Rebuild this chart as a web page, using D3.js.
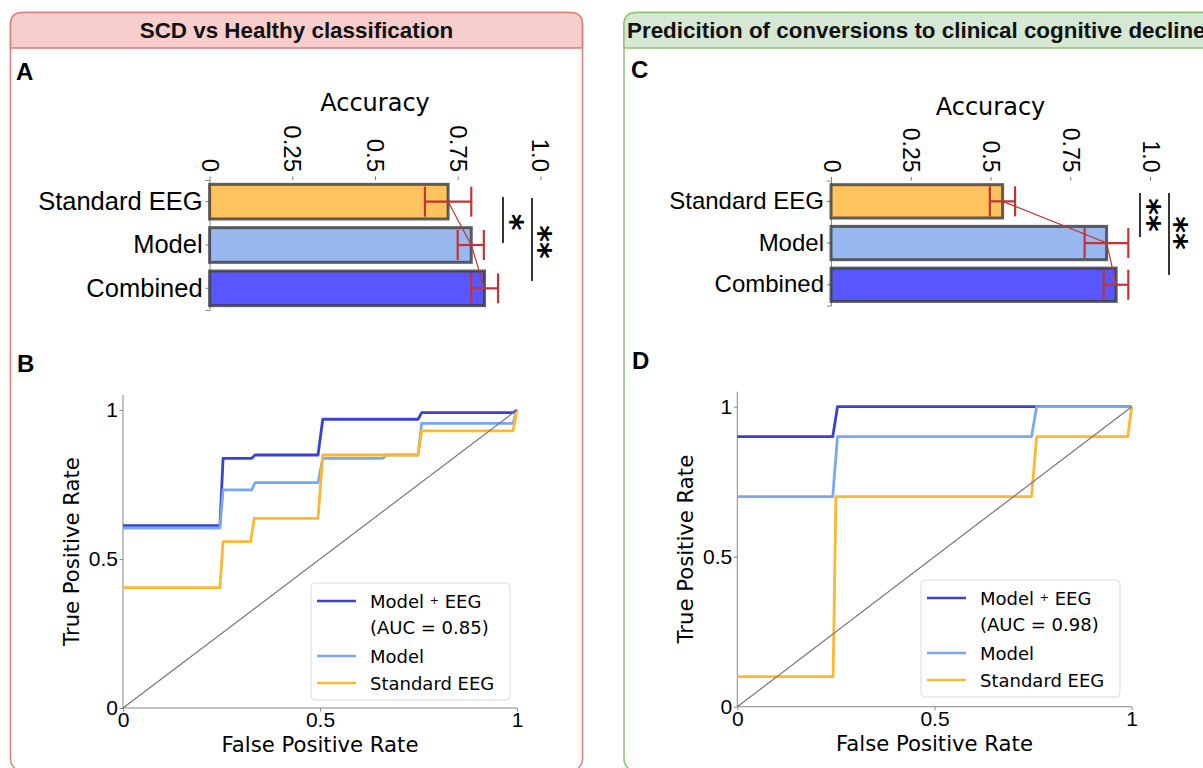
<!DOCTYPE html>
<html>
<head>
<meta charset="utf-8">
<script src="https://cdn.jsdelivr.net/npm/d3@7"></script>
<style>
body { margin: 0; background: #fff; }
svg { display: block; }
</style>
</head>
<body>
<svg id="fig" width="1203" height="768"></svg>
<script>
// bar charts (accuracy)
var categories = ["Standard EEG", "Model", "Combined"];
var barColors = ["#fec35c", "#99b8ef", "#5757fd"];
var accTicks = [0, 0.25, 0.5, 0.75, 1.0];
var accTickLabels = ["0", "0.25", "0.5", "0.75", "1.0"];

var accuracyA = [0.721, 0.791, 0.831];
var errLowA = [0.651, 0.750, 0.791];
var errHighA = [0.791, 0.829, 0.872];

var accuracyC = [0.538, 0.864, 0.894];
var errLowC = [0.498, 0.795, 0.855];
var errHighC = [0.577, 0.932, 0.932];

var sigA = ["*", "**"];
var sigC = ["**", "**"];

// ROC curves
var rocTicks = [0, 0.5, 1];
var rocTickLabels = ["0", "0.5", "1"];
var rocColors = ["#3b41cf", "#7ba7f0", "#ffb732"];
var rocNames = ["Model + EEG", "Model", "Standard EEG"];

var combinedFprB = [0, 0.246, 0.254, 0.327, 0.335, 0.495, 0.507, 0.749, 0.758, 0.99, 1.0];
var combinedTprB = [0.612, 0.612, 0.838, 0.838, 0.849, 0.849, 0.969, 0.969, 0.991, 0.991, 1.0];
var modelFprB = [0, 0.246, 0.254, 0.327, 0.335, 0.495, 0.507, 0.66, 0.668, 0.749, 0.758, 0.99, 1.0];
var modelTprB = [0.604, 0.604, 0.732, 0.732, 0.756, 0.756, 0.838, 0.838, 0.849, 0.849, 0.955, 0.955, 1.0];
var eegFprB = [0, 0.246, 0.254, 0.324, 0.333, 0.495, 0.507, 0.749, 0.758, 0.99, 1.0];
var eegTprB = [0.404, 0.404, 0.558, 0.558, 0.636, 0.636, 0.849, 0.849, 0.93, 0.93, 1.0];
var aucB = "0.85";

var combinedFprD = [0, 0.242, 0.254, 1.0];
var combinedTprD = [0.9, 0.9, 1.0, 1.0];
var modelFprD = [0, 0.242, 0.254, 0.746, 0.759, 1.0];
var modelTprD = [0.7, 0.7, 0.9, 0.9, 1.0, 1.0];
var eegFprD = [0, 0.243, 0.25, 0.746, 0.759, 0.99, 1.0];
var eegTprD = [0.1, 0.1, 0.7, 0.7, 0.9, 0.9, 1.0];
var aucD = "0.98";

var FONT = "'DejaVu Sans', sans-serif";
var HEAD = "'Liberation Sans', Arial, sans-serif";
var svg = d3.select("#fig");
svg.append("rect").attr("width", 1203).attr("height", 768).attr("fill", "#fff");

function frame(x, w, fill, stroke, title, titleX, anchor) {
    var r = 12, top = 12.5, hb = 48, bottom = 771;
    var g = svg.append("g");
    g.append("rect").attr("x", x).attr("y", top).attr("width", w).attr("height", bottom - top)
        .attr("rx", r).attr("fill", "#fff").attr("stroke", stroke).attr("stroke-width", 1.5);
    g.append("path")
        .attr("d", "M" + x + "," + hb + "V" + (top + r) + "Q" + x + "," + top + " " + (x + r) + "," + top +
            "H" + (x + w - r) + "Q" + (x + w) + "," + top + " " + (x + w) + "," + (top + r) + "V" + hb + "Z")
        .attr("fill", fill).attr("stroke", stroke).attr("stroke-width", 1.5);
    g.append("text").attr("x", titleX).attr("y", 38).attr("text-anchor", anchor)
        .attr("font-family", HEAD).attr("font-weight", "bold").attr("font-size", 22.4)
        .attr("fill", "#111").text(title);
}

frame(10.5, 572, "#f8cecc", "#d4807c", "SCD vs Healthy classification", 296.5, "middle");
frame(624, 640, "#d5e8d4", "#8ec07a", "Predicition of conversions to clinical cognitive decline", 627, "start");

function letter(t, x, y) {
    svg.append("text").attr("x", x).attr("y", y).attr("font-family", HEAD)
        .attr("font-weight", "bold").attr("font-size", 24).attr("fill", "#000").text(t);
}
letter("A", 16, 80);
letter("C", 631, 78);
letter("B", 17, 372);
letter("D", 632, 369);

function drawBars(cfg) {
    var x = d3.scaleLinear().domain([0, 1]).range([cfg.x0, cfg.x1]);
    var y = d3.scaleBand().domain(categories).range([cfg.y0, cfg.y1])
        .paddingInner(0.2).paddingOuter(0.1);
    var g = svg.append("g").attr("font-family", FONT);

    // top axis
    var ax = g.append("g").attr("transform", "translate(0," + cfg.y0 + ")")
        .call(d3.axisTop(x).tickValues(accTicks).tickSize(3.5)
            .tickFormat(function (d, i) { return accTickLabels[i]; }));
    ax.select(".domain").remove();
    ax.selectAll(".tick line").attr("stroke", "#777");
    ax.selectAll(".tick text")
        .attr("font-size", cfg.tickSize).attr("fill", "#000")
        .attr("y", 0).attr("dy", 0)
        .attr("text-anchor", "end").attr("dominant-baseline", "central")
        .attr("transform", "translate(0,-8) rotate(90)");
    g.append("text").attr("x", (cfg.x0 + cfg.x1) / 2).attr("y", cfg.labelY)
        .attr("text-anchor", "middle").attr("font-size", 24).attr("fill", "#000").text("Accuracy");

    // left axis
    var ay = g.append("g").attr("transform", "translate(" + cfg.x0 + ",0)")
        .call(d3.axisLeft(y).tickSize(4).tickPadding(3));
    ay.select(".domain").attr("stroke", "#888");
    ay.selectAll(".tick line").attr("stroke", "#777");
    ay.selectAll(".tick text").attr("font-size", cfg.catSize).attr("fill", "#000");

    g.selectAll("rect.bar").data(cfg.acc).enter().append("rect")
        .attr("x", x(0))
        .attr("y", function (d, i) { return y(categories[i]); })
        .attr("width", function (d) { return x(d) - x(0); })
        .attr("height", y.bandwidth())
        .attr("fill", function (d, i) { return barColors[i]; })
        .attr("stroke", "#3a3a3a").attr("stroke-opacity", 0.8).attr("stroke-width", 3);

    var mid = function (i) { return y(categories[i]) + y.bandwidth() / 2; };
    var red = "#c23434";
    g.append("path")
        .attr("d", d3.line()(cfg.acc.map(function (d, i) { return [x(d), mid(i)]; })))
        .attr("fill", "none").attr("stroke", red).attr("stroke-width", 1.2);
    cfg.acc.forEach(function (d, i) {
        var c = mid(i), h = 15;
        g.append("line").attr("x1", x(cfg.lo[i])).attr("x2", x(cfg.hi[i]))
            .attr("y1", c).attr("y2", c).attr("stroke", red).attr("stroke-width", 2.2);
        [cfg.lo[i], cfg.hi[i]].forEach(function (v) {
            g.append("line").attr("x1", x(v)).attr("x2", x(v)).attr("y1", c - h).attr("y2", c + h)
                .attr("stroke", red).attr("stroke-width", 2.2);
        });
    });

    // significance brackets
    cfg.sig.forEach(function (s, i) {
        var b = cfg.brackets[i];
        g.append("line").attr("x1", b.x).attr("x2", b.x).attr("y1", b.ya).attr("y2", b.yb)
            .attr("stroke", "#000").attr("stroke-width", 1.6);
        g.append("text").attr("transform", "translate(" + b.tx + "," + b.ty + ") rotate(90)")
            .attr("text-anchor", "middle").attr("dy", "0.54em")
            .attr("font-family", "'DejaVu Sans', sans-serif").attr("font-weight", "bold")
            .attr("font-size", 32).attr("fill", "#000").text(s);
    });
}

drawBars({
    x0: 209.6, x1: 540.4, y0: 180, y1: 310, labelY: 111, catSize: 25.5, tickSize: 24,
    acc: accuracyA, lo: errLowA, hi: errHighA, sig: sigA,
    brackets: [{ x: 503, ya: 197, yb: 243, tx: 518, ty: 222 },
               { x: 532, ya: 198, yb: 281, tx: 546, ty: 242 }]
});
drawBars({
    x0: 831, x1: 1150, y0: 180.5, y1: 305.6, labelY: 115, catSize: 24, tickSize: 23,
    acc: accuracyC, lo: errLowC, hi: errHighC, sig: sigC,
    brackets: [{ x: 1140, ya: 193, yb: 237, tx: 1155, ty: 215 },
               { x: 1169, ya: 193, yb: 275, tx: 1182, ty: 233 }]
});

function drawRoc(cfg) {
    var x = d3.scaleLinear().domain([0, 1]).range([cfg.x0, cfg.x1]);
    var y = d3.scaleLinear().domain([0, 1]).range([cfg.y0, cfg.y1]);
    var g = svg.append("g").attr("font-family", FONT);

    var ax = g.append("g").attr("transform", "translate(0," + cfg.y0 + ")")
        .call(d3.axisBottom(x).tickValues(rocTicks).tickSize(3.5).tickPadding(1)
            .tickFormat(function (d, i) { return rocTickLabels[i]; }));
    var ay = g.append("g").attr("transform", "translate(" + cfg.x0 + ",0)")
        .call(d3.axisLeft(y).tickValues(rocTicks).tickSize(3.5).tickPadding(1.5)
            .tickFormat(function (d, i) { return rocTickLabels[i]; }));
    ay.select(".domain").attr("d", "M0," + y(1.05) + "V" + y(0));
    ax.select(".domain").attr("d", "M" + x(0) + ",0H" + x(1));
    [ax, ay].forEach(function (a) {
        a.select(".domain").attr("stroke", "#888");
        a.selectAll(".tick line").attr("stroke", "#888");
        a.selectAll(".tick text").attr("font-size", 21).attr("fill", "#000");
    });

    g.append("text").attr("x", (cfg.x0 + cfg.x1) / 2).attr("y", cfg.y0 + 44)
        .attr("text-anchor", "middle").attr("font-size", 21.2).attr("fill", "#000")
        .text("False Positive Rate");
    g.append("text")
        .attr("transform", "translate(" + (cfg.x0 - 44) + "," + ((y(0) + y(1.05)) / 2) + ") rotate(-90)")
        .attr("text-anchor", "middle").attr("font-size", 21.2).attr("fill", "#000")
        .text("True Positive Rate");

    var line = d3.line().x(function (d) { return x(d[0]); }).y(function (d) { return y(d[1]); });
    cfg.curves.forEach(function (c, i) {
        var pts = c.fpr.map(function (f, j) { return [f, c.tpr[j]]; });
        g.append("path").attr("d", line(pts)).attr("fill", "none")
            .attr("stroke", rocColors[i]).attr("stroke-width", 2.8)
            .attr("stroke-linejoin", "round");
    });
    g.append("path").attr("d", line([[0, 0], [1, 1]])).attr("fill", "none")
        .attr("stroke", "#777").attr("stroke-width", 1.2);

    // legend
    var lx = cfg.legX, ly = cfg.legY;
    var lg = g.append("g");
    lg.append("rect").attr("x", lx).attr("y", ly).attr("width", 199).attr("height", 117)
        .attr("rx", 4).attr("fill", "#fff").attr("fill-opacity", 0.85)
        .attr("stroke", "#dcdcdc").attr("stroke-width", 1);
    var rows = [18, 73, 100];
    rocNames.forEach(function (n, i) {
        lg.append("line").attr("x1", lx + 6).attr("x2", lx + 45)
            .attr("y1", ly + rows[i]).attr("y2", ly + rows[i])
            .attr("stroke", rocColors[i]).attr("stroke-width", 2.5);
        var t = lg.append("text").attr("x", lx + 59).attr("y", ly + rows[i])
            .attr("dominant-baseline", "central").attr("font-size", 18).attr("fill", "#000");
        if (i === 0) {
            var parts = n.split(" + ");
            t.append("tspan").text(parts[0] + " ");
            t.append("tspan").attr("font-size", 11).attr("dy", -1).text("+");
            t.append("tspan").attr("dy", 1).text(" " + parts[1]);
        } else {
            t.text(n);
        }
    });
    lg.append("text").attr("x", lx + 59).attr("y", ly + 44).attr("dominant-baseline", "central")
        .attr("font-size", 18).attr("fill", "#000").text("(AUC = " + cfg.auc + ")");
}

drawRoc({
    x0: 123, x1: 517, y0: 708, y1: 410, legX: 311, legY: 583, auc: aucB,
    curves: [{ fpr: combinedFprB, tpr: combinedTprB },
             { fpr: modelFprB, tpr: modelTprB },
             { fpr: eegFprB, tpr: eegTprB }]
});
drawRoc({
    x0: 737.3, x1: 1131.7, y0: 706.7, y1: 406.7, legX: 921, legY: 580, auc: aucD,
    curves: [{ fpr: combinedFprD, tpr: combinedTprD },
             { fpr: modelFprD, tpr: modelTprD },
             { fpr: eegFprD, tpr: eegTprD }]
});
</script>
</body>
</html>
